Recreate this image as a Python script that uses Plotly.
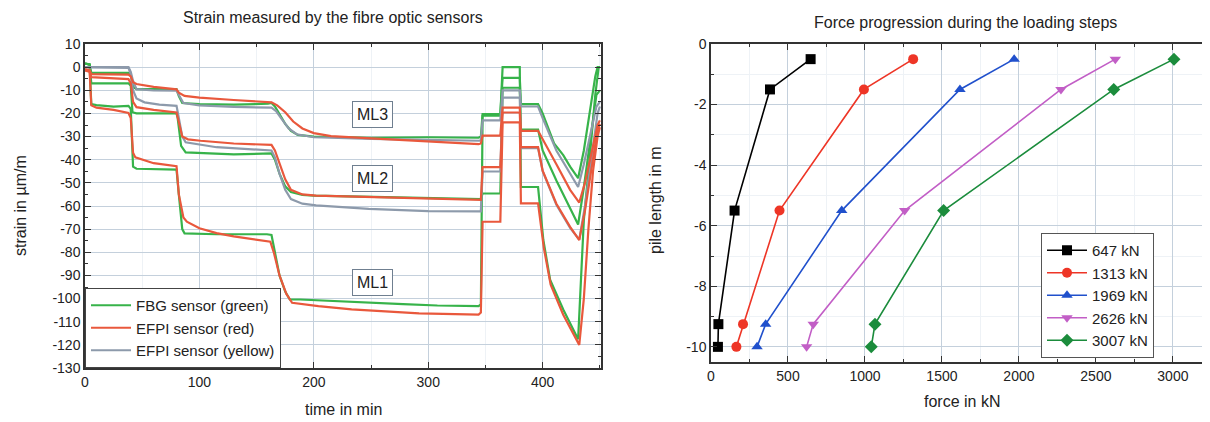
import plotly.graph_objects as go

# ---------------- Left chart data: strain vs time ----------------
ml3_fbg_t = [0, 4, 5.5, 38, 40, 42, 45, 80, 82, 85, 100, 130, 160, 163, 166, 170, 175, 180, 186, 200, 250, 300, 344, 346, 347.5, 363, 365, 380, 381, 396, 400, 410, 418, 424, 431, 436, 441, 446, 448, 450]
ml3_fbg_s = [1.5, 1.2, -2.5, -2.5, -3.5, -8.5, -9.5, -9.5, -12.5, -15.5, -16, -16.2, -15.8, -15.5, -17, -20.5, -24.5, -27.5, -29.3, -30, -30.5, -30.3, -30.5, -30, -20.3, -20.3, -4.6, -4.6, -16, -16, -20, -33, -38, -43, -48, -36, -19, -4, 0, 0]

ml3_efpi_red_t = [0, 4, 5.5, 38, 40, 42, 45, 60, 80, 82, 87, 100, 130, 163, 168, 175, 182, 190, 200, 215, 250, 300, 344, 346, 347.5, 363, 365, 380, 381, 396, 400, 412, 424, 432, 437, 443, 448, 450]
ml3_efpi_red_s = [-1, -1.2, -3, -3.2, -4, -6.5, -7.3, -8.5, -9.6, -11, -12.4, -13.2, -14.2, -15.2, -16.5, -19.5, -23.5, -26.5, -28.5, -29.8, -30.8, -32.3, -33.3, -33, -29.6, -29.6, -17.5, -17.5, -27.5, -27.5, -31, -42, -53, -58.5, -50, -36, -25, -23]

ml3_efpi_yel_t = [0, 5, 38, 40, 42, 45, 60, 80, 82, 86, 100, 130, 163, 167, 172, 178, 185, 200, 250, 300, 345, 346, 347.5, 363, 365, 380, 381, 396, 400, 412, 424, 431, 436, 441, 447, 450]
ml3_efpi_yel_s = [0, 0, 0, -2, -6, -9.5, -10, -10.2, -12, -15.5, -16.5, -17.2, -17.5, -19, -22.5, -26.5, -29, -30.3, -31, -31.5, -31.8, -31.5, -23, -23, -10, -10, -17, -17, -22, -36, -46, -51.8, -42, -30, -17, -15]

ml2_fbg_t = [0, 4, 5.5, 38, 40, 41.5, 45, 80, 81, 84, 88, 130, 163, 166, 170, 175, 180, 190, 200, 250, 300, 344, 346, 347.5, 363, 365, 380, 381, 396, 400, 412, 424, 431, 436, 442, 447, 450]
ml2_fbg_s = [1.5, 1.2, -7, -7, -8, -19.5, -20, -20, -22, -34, -36.8, -37.7, -37.3, -40, -46, -51.5, -54, -55.2, -55.5, -56.1, -56.5, -57.2, -57, -54.6, -54.6, -8.9, -8.9, -27, -27, -36, -49, -61, -68, -52, -30, -12, -10]

ml2_efpi_red_t = [0, 4, 5.5, 38, 40, 42, 45, 60, 80, 82, 85, 90, 101, 130, 163, 166, 170, 175, 180, 190, 202, 250, 300, 344, 346, 347.5, 363, 365, 380, 381, 396, 400, 412, 424, 432, 437, 443, 448, 450]
ml2_efpi_red_s = [-1.5, -2, -4.3, -5.2, -7, -15, -17.3, -18.5, -19.6, -24, -30, -31.2, -31.8, -33, -33.6, -36, -42, -48.5, -53, -55, -55.5, -56.1, -56.8, -57.5, -57.3, -43.2, -43.2, -19.6, -19.6, -34.6, -34.6, -44.7, -59, -69, -74.7, -62, -42, -27, -24.5]

ml2_efpi_yel_t = [0, 5, 38, 40, 42, 45, 52, 65, 80, 82, 85, 88, 115, 163, 166, 170, 175, 180, 190, 202, 248, 300, 345, 346, 347.5, 363, 365, 380, 381, 396, 400, 412, 424, 432, 437, 443, 448, 450]
ml2_efpi_yel_s = [0, 0, -0.3, -3, -10, -13.5, -15.2, -16.2, -16.7, -22, -30, -32.5, -34.6, -36, -39, -46, -53, -57, -59, -59.7, -61.2, -62.2, -62.6, -62.3, -45.1, -45.1, -13.2, -13.2, -35, -35, -45, -59.5, -69.5, -74.5, -60, -38, -20, -17]

ml1_fbg_t = [0, 4, 5.5, 10, 25, 38, 40, 42, 45, 80, 82, 85, 87, 115, 159, 163, 166, 170, 175, 179, 188, 220, 278, 308, 344, 346, 347.5, 363, 365, 380, 381, 396, 400.6, 406.5, 418, 431, 436, 441, 446, 449, 450]
ml1_fbg_s = [1.5, 1.2, -16, -16.4, -17.1, -16.7, -18, -43, -43.9, -44.3, -55, -70, -71.8, -72.2, -72.2, -72.5, -80, -90, -97, -100.4, -100.4, -101, -102.4, -103, -103.3, -102.5, -21, -21, 0, 0, -51.8, -51.8, -74.7, -91.8, -104.7, -117.6, -66, -40, -12, 0, 0]

ml1_efpi_red_t = [0, 4, 5.5, 10, 25, 38, 40, 42, 44, 60, 80, 82, 86, 89, 100, 115, 130, 162, 165, 170, 176, 181, 204, 233, 292, 344, 346, 347.5, 363, 365, 380, 381, 396, 401, 407, 418, 432, 436, 440, 444, 448, 450]
ml1_efpi_red_s = [-1, -1.5, -16.5, -17.5, -18.5, -19.8, -22, -37, -39, -41.5, -42.8, -55, -65, -66.8, -69.6, -71.7, -73.1, -75.4, -80, -90, -98, -101.8, -103.3, -104.7, -106.4, -106.9, -106, -66.8, -66.8, -23.9, -23.9, -58.9, -58.9, -78, -94, -107, -120, -100, -70, -45, -30, -26]

strain_ticks = [10, 0, -10, -20, -30, -40, -50, -60, -70, -80, -90, -100, -110, -120, -130]
strain_ticktext = ["10", "0", "-10", "-20", "-30", "-40", "-50", "-60", "-70", "-80", "-90", "-100", "-110", "-120", "-130"]
time_ticks = [0, 100, 200, 300, 400]

level_labels = ["ML3", "ML2", "ML1"]
level_label_t = [251, 251, 251]
level_label_s = [-20.6, -47.9, -92.9]

# ---------------- Right chart data: force vs pile length ----------------
depths = [-0.5, -1.5, -5.5, -9.25, -10]
force_647 = [647, 383, 153, 48, 45]
force_1313 = [1313, 993, 445, 208, 165]
force_1969 = [1969, 1617, 849, 355, 299]
force_2626 = [2626, 2273, 1258, 664, 621]
force_3007 = [3007, 2616, 1511, 1065, 1041]
load_names = ["647 kN", "1313 kN", "1969 kN", "2626 kN", "3007 kN"]
force_ticks = [0, 500, 1000, 1500, 2000, 2500, 3000]
depth_ticks = [0, -2, -4, -6, -8, -10]
depth_ticktext = ["0", "-2", "-4", "-6", "-8", "-10"]

# ---------------- Styling ----------------
FONT = "Liberation Sans, Arial, sans-serif"
GREEN = "#37b34a"
RED = "#e9583c"
GRAY = "#8d9aab"
W, H = 1210, 422
OFF = 8  # page body margin of the html page

fig = go.Figure()

left_series = [
    (ml3_fbg_t, ml3_fbg_s, GREEN, "FBG sensor (green)", False),
    (ml2_fbg_t, ml2_fbg_s, GREEN, "FBG sensor (green)", False),
    (ml1_fbg_t, ml1_fbg_s, GREEN, "FBG sensor (green)", True),
    (ml3_efpi_yel_t, ml3_efpi_yel_s, GRAY, "EFPI sensor (yellow)", False),
    (ml2_efpi_yel_t, ml2_efpi_yel_s, GRAY, "EFPI sensor (yellow)", True),
    (ml3_efpi_red_t, ml3_efpi_red_s, RED, "EFPI sensor (red)", False),
    (ml2_efpi_red_t, ml2_efpi_red_s, RED, "EFPI sensor (red)", False),
    (ml1_efpi_red_t, ml1_efpi_red_s, RED, "EFPI sensor (red)", True),
]
legend_rank = {"FBG sensor (green)": 1, "EFPI sensor (red)": 2, "EFPI sensor (yellow)": 3}
for t, s, c, name, show in left_series:
    fig.add_trace(go.Scatter(
        x=t, y=s, mode="lines", name=name, legendgroup=name, showlegend=show,
        legendrank=legend_rank[name], line=dict(color=c, width=2.2),
        xaxis="x", yaxis="y", legend="legend"))

right_series = [
    (force_647, "#000000", "square"),
    (force_1313, "#ee3526", "circle"),
    (force_1969, "#2050cc", "triangle-up"),
    (force_2626, "#c25ec6", "triangle-down"),
    (force_3007, "#1b8c3c", "diamond"),
]
for (f, c, sym), nm in zip(right_series, load_names):
    fig.add_trace(go.Scatter(
        x=f, y=depths, mode="lines+markers", name=nm,
        line=dict(color=c, width=1.6), marker=dict(symbol=sym, size=10, color=c),
        xaxis="x2", yaxis="y2", legend="legend2"))

axis_common = dict(
    ticks="inside", ticklen=6, tickwidth=1.2, tickcolor="#333",
    showline=True, linecolor="#333", linewidth=1.5, mirror="ticks",
    showgrid=True, gridcolor="#c4d0dc", gridwidth=1, zeroline=False,
    automargin=False,
    tickfont=dict(family=FONT, size=14, color="#222"),
)

def px_x(p):
    return (p - OFF) / W

def px_y(p):
    return 1 - (p - OFF) / H

fig.update_layout(
    width=W, height=H, autosize=False,
    margin=dict(l=0, r=0, t=0, b=0, pad=0, autoexpand=False),
    paper_bgcolor="white", plot_bgcolor="white",
    font=dict(family=FONT, color="#222"),
    xaxis=dict(domain=[px_x(85), px_x(601)], range=[0, 451], tickvals=time_ticks,
               minor=dict(dtick=50, ticks="inside", ticklen=3, tickcolor="#333",
                          showgrid=True, gridcolor="#eef2f6"),
               anchor="y", **axis_common),
    yaxis=dict(domain=[px_y(368), px_y(44)], range=[-130, 10], tickvals=strain_ticks,
               ticktext=strain_ticktext,
               minor=dict(dtick=5, ticks="inside", ticklen=3, tickcolor="#333", showgrid=False),
               anchor="x", **axis_common),
    xaxis2=dict(domain=[px_x(711), px_x(1208)], range=[0, 3228], tickvals=force_ticks,
                minor=dict(dtick=250, ticks="inside", ticklen=3, tickcolor="#333",
                           showgrid=True, gridcolor="#eef2f6"),
                anchor="y2", **axis_common),
    yaxis2=dict(domain=[px_y(362), px_y(44)], range=[-10.5, 0], tickvals=depth_ticks,
                ticktext=depth_ticktext,
                minor=dict(dtick=1, ticks="inside", ticklen=3, tickcolor="#333",
                           showgrid=True, gridcolor="#eef2f6"),
                anchor="x2", **axis_common),
    legend=dict(x=px_x(85), y=px_y(368), xanchor="left", yanchor="bottom",
                bgcolor="white", bordercolor="#444", borderwidth=1,
                font=dict(family=FONT, size=15, color="#222"), tracegroupgap=0,
                itemwidth=40),
    legend2=dict(x=px_x(1041), y=px_y(233), xanchor="left", yanchor="top",
                 bgcolor="white", bordercolor="#555", borderwidth=1,
                 font=dict(family=FONT, size=15, color="#222"), tracegroupgap=0,
                 itemwidth=40),
)

annotations = [
    dict(text="Strain measured by the fibre optic sensors", x=px_x(333), y=px_y(17),
         xref="paper", yref="paper", xanchor="center", yanchor="middle",
         showarrow=False, font=dict(size=16)),
    dict(text="Force progression during the loading steps", x=px_x(965), y=px_y(23),
         xref="paper", yref="paper", xanchor="center", yanchor="middle",
         showarrow=False, font=dict(size=16)),
    dict(text="strain in µm/m", x=px_x(20), y=px_y(206), xref="paper", yref="paper",
         xanchor="center", yanchor="middle",
         showarrow=False, textangle=-90, font=dict(size=16)),
    dict(text="time in min", x=px_x(343), y=px_y(409), xref="paper", yref="paper",
         xanchor="center", yanchor="middle",
         showarrow=False, font=dict(size=16)),
    dict(text="pile length in m", x=px_x(655), y=px_y(200), xref="paper", yref="paper",
         xanchor="center", yanchor="middle",
         showarrow=False, textangle=-90, font=dict(size=16)),
    dict(text="force in kN", x=px_x(962), y=px_y(401), xref="paper", yref="paper",
         xanchor="center", yanchor="middle",
         showarrow=False, font=dict(size=16)),
]
for lab, t, s in zip(level_labels, level_label_t, level_label_s):
    annotations.append(dict(text=lab, x=t, y=s, xref="x", yref="y", showarrow=False,
                            xanchor="center", yanchor="middle",
                            font=dict(size=16), bgcolor="white", bordercolor="#6f7f90",
                            borderwidth=1, borderpad=4))
fig.update_layout(annotations=annotations)

fig.write_html("out.html", config={"displayModeBar": False})
